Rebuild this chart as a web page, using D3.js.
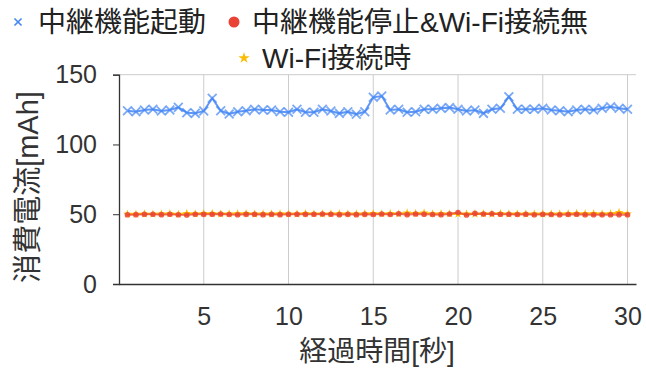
<!DOCTYPE html>
<html>
<head>
<meta charset="utf-8">
<script src="https://cdn.jsdelivr.net/npm/d3@7"></script>
<style>
  html, body { margin: 0; padding: 0; background: #fff; }
  svg { display: block; font-family: "Liberation Sans", Arial, "Noto Sans CJK JP", sans-serif; }
</style>
</head>
<body>
<svg id="chart" width="646" height="370"></svg>
<script>
// Elapsed time in seconds (one sample every 0.5 s)
const times = [
  0.5, 1.0, 1.5, 2.0, 2.5, 3.0, 3.5, 4.0, 4.5, 5.0,
  5.5, 6.0, 6.5, 7.0, 7.5, 8.0, 8.5, 9.0, 9.5, 10.0,
  10.5, 11.0, 11.5, 12.0, 12.5, 13.0, 13.5, 14.0, 14.5, 15.0,
  15.5, 16.0, 16.5, 17.0, 17.5, 18.0, 18.5, 19.0, 19.5, 20.0,
  20.5, 21.0, 21.5, 22.0, 22.5, 23.0, 23.5, 24.0, 24.5, 25.0,
  25.5, 26.0, 26.5, 27.0, 27.5, 28.0, 28.5, 29.0, 29.5, 30.0
];

// Relay function active
const relayOn = [
  124.2, 123.5, 124.7, 125.2, 124.0, 124.7, 126.6, 122.8, 122.3, 124.0,
  133.1, 124.2, 121.8, 123.5, 124.2, 125.2, 124.7, 124.7, 123.5, 123.1,
  125.2, 123.1, 123.1, 125.2, 124.0, 122.3, 123.5, 121.6, 123.5, 133.8,
  134.7, 124.7, 125.2, 123.1, 123.5, 125.2, 125.2, 125.9, 126.4, 125.2,
  124.0, 124.7, 122.3, 125.2, 125.9, 134.2, 125.2, 125.2, 125.2, 125.9,
  124.7, 124.2, 123.5, 124.7, 125.2, 124.7, 125.9, 127.1, 125.9, 125.2
];

// Relay stopped, no Wi-Fi connection
const relayOffNoWifi = [
  49.6, 49.7, 50.0, 50.0, 49.7, 50.0, 49.6, 49.5, 50.0, 49.9,
  50.0, 50.1, 49.8, 49.6, 49.9, 50.0, 49.7, 50.0, 49.7, 50.0,
  50.0, 49.9, 50.0, 50.1, 50.0, 49.7, 49.9, 49.7, 49.9, 49.8,
  50.2, 49.8, 50.3, 49.7, 50.2, 50.0, 49.8, 49.7, 50.2, 51.2,
  49.5, 50.6, 50.1, 50.4, 50.0, 50.0, 49.8, 50.0, 49.6, 50.0,
  49.8, 49.6, 49.8, 50.0, 49.6, 49.6, 49.6, 49.6, 49.7, 49.6
];

// Wi-Fi connected
const wifiOn = [
  50.0, 50.1, 50.2, 50.1, 50.3, 50.4, 50.0, 50.6, 50.3, 50.5,
  50.6, 50.2, 50.3, 50.4, 50.5, 50.2, 50.3, 50.2, 50.4, 50.3,
  50.2, 50.5, 50.3, 50.2, 50.3, 50.4, 50.3, 50.2, 50.4, 50.5,
  50.3, 50.6, 50.3, 50.9, 50.6, 50.9, 50.3, 50.4, 50.3, 50.2,
  50.3, 50.2, 50.4, 50.2, 50.5, 50.2, 50.3, 50.2, 50.3, 50.2,
  50.2, 50.3, 50.4, 50.6, 50.4, 50.5, 50.3, 50.4, 51.3, 50.3
];

const xTicks = [5, 10, 15, 20, 25, 30];
const yTicks = [0, 50, 100, 150];

const seriesNames = ["中継機能起動", "中継機能停止&Wi-Fi接続無", "Wi-Fi接続時"];
const seriesColors = ["#4285f4", "#ea4335", "#fbbc04"];

const svg = d3.select("#chart");

const x = d3.scaleLinear().domain([0, 30.5]).range([119, 636]);
const y = d3.scaleLinear().domain([0, 150]).range([284, 74.7]);

// vertical gridlines
svg.append("g")
  .selectAll("line")
  .data(xTicks)
  .join("line")
  .attr("x1", d => x(d)).attr("x2", d => x(d))
  .attr("y1", y(150)).attr("y2", y(0))
  .attr("stroke", "#cccccc").attr("stroke-width", 1);

// top line at the axis maximum
svg.append("line")
  .attr("x1", x(0)).attr("x2", x.range()[1])
  .attr("y1", y(150)).attr("y2", y(150))
  .attr("stroke", "#cccccc").attr("stroke-width", 1);

// y axis
const yAxis = svg.append("g")
  .attr("transform", `translate(${x(0)},0)`)
  .call(d3.axisLeft(y).tickValues(yTicks).tickSize(6).tickPadding(16));
yAxis.select(".domain").attr("stroke", "#333").attr("stroke-width", 1.3);
yAxis.selectAll(".tick line").attr("stroke", "#333");
yAxis.selectAll("text")
  .attr("font-size", 25).attr("fill", "#333")
  .attr("font-family", "'Liberation Sans', Arial, sans-serif");

// x axis
const xAxis = svg.append("g")
  .attr("transform", `translate(0,${y(0)})`)
  .call(d3.axisBottom(x).tickValues(xTicks).tickSize(0).tickPadding(23).tickSizeOuter(0));
xAxis.select(".domain").attr("stroke", "#333").attr("stroke-width", 1.3);
xAxis.selectAll("text")
  .attr("font-size", 25).attr("fill", "#333")
  .attr("font-family", "'Liberation Sans', Arial, sans-serif");

// axis titles
svg.append("text")
  .attr("x", 377).attr("y", 361)
  .attr("text-anchor", "middle")
  .attr("font-size", 28).attr("fill", "#333")
  .text("経過時間[秒]");

svg.append("text")
  .attr("transform", "translate(38,187) rotate(-90)")
  .attr("text-anchor", "middle")
  .attr("font-size", 29).attr("fill", "#333")
  .text("消費電流[mAh]");

const line = d3.line().x(d => x(d[0])).y(d => y(d[1]));
const zip = vals => times.map((t, i) => [t, vals[i]]);

const plot = svg.append("g");

// relay active: line with x markers
plot.append("path")
  .datum(zip(relayOn))
  .attr("d", line)
  .attr("fill", "none").attr("stroke", seriesColors[0]).attr("stroke-width", 2).attr("opacity", 0.85);
plot.append("g")
  .selectAll("path")
  .data(zip(relayOn))
  .join("path")
  .attr("transform", d => `translate(${x(d[0])},${y(d[1])})`)
  .attr("d", d3.symbol(d3.symbolTimes, 52))
  .attr("fill", "none").attr("stroke", seriesColors[0]).attr("stroke-width", 1.8).attr("opacity", 0.7);

// Wi-Fi connected: line with star markers
plot.append("path")
  .datum(zip(wifiOn))
  .attr("d", line)
  .attr("fill", "none").attr("stroke", seriesColors[2]).attr("stroke-width", 2);
plot.append("g")
  .selectAll("path")
  .data(zip(wifiOn))
  .join("path")
  .attr("transform", d => `translate(${x(d[0])},${y(d[1])})`)
  .attr("d", d3.symbol(d3.symbolStar, 24))
  .attr("fill", seriesColors[2]);

// relay stopped, no Wi-Fi: line with circle markers
plot.append("path")
  .datum(zip(relayOffNoWifi))
  .attr("d", line)
  .attr("fill", "none").attr("stroke", seriesColors[1]).attr("stroke-width", 2).attr("opacity", 0.7);
plot.append("g")
  .selectAll("circle")
  .data(zip(relayOffNoWifi))
  .join("circle")
  .attr("cx", d => x(d[0])).attr("cy", d => y(d[1]))
  .attr("r", 2.8)
  .attr("fill", seriesColors[1]).attr("opacity", 0.85);

// legend
const legendItems = [
  { sym: "x", mx: 18, tx: 38, cy: 22 },
  { sym: "o", mx: 234, tx: 252, cy: 22 },
  { sym: "s", mx: 244, tx: 262, cy: 58 }
];
const legend = svg.append("g");
legendItems.forEach((it, i) => {
  const g = legend.append("g");
  if (it.sym === "x") {
    g.append("path")
      .attr("transform", `translate(${it.mx},${it.cy})`)
      .attr("d", d3.symbol(d3.symbolTimes, 34))
      .attr("fill", "none").attr("stroke", seriesColors[i]).attr("stroke-width", 1.6);
  } else if (it.sym === "o") {
    g.append("circle")
      .attr("cx", it.mx).attr("cy", it.cy).attr("r", 5.5)
      .attr("fill", seriesColors[i]);
  } else {
    g.append("path")
      .attr("transform", `translate(${it.mx},${it.cy})`)
      .attr("d", d3.symbol(d3.symbolStar, 40))
      .attr("fill", seriesColors[i]);
  }
  g.append("text")
    .attr("x", it.tx).attr("y", it.cy)
    .attr("dy", "0.36em")
    .attr("font-size", 28).attr("fill", "#222")
    .text(seriesNames[i]);
});
</script>
</body>
</html>
